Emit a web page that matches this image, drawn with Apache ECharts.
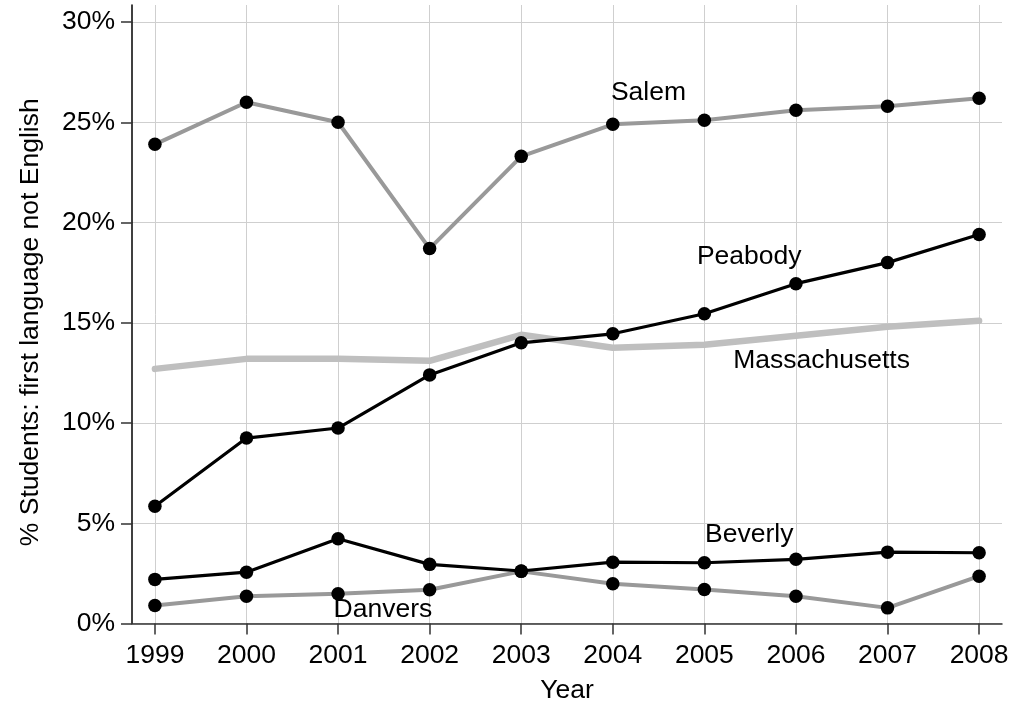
<!DOCTYPE html>
<html>
<head>
<meta charset="utf-8">
<script src="https://cdn.jsdelivr.net/npm/echarts@6/dist/echarts.min.js"></script>
<style>html,body{margin:0;padding:0;background:#fff;}#c{width:1010px;height:701px;}</style>
</head>
<body>
<div id="c"></div>
<script>
const years = [1999, 2000, 2001, 2002, 2003, 2004, 2005, 2006, 2007, 2008];
const salem = [23.9, 26.0, 25.0, 18.7, 23.3, 24.9, 25.1, 25.6, 25.8, 26.2];
const peabody = [5.85, 9.25, 9.75, 12.4, 14.0, 14.45, 15.45, 16.95, 18.0, 19.4];
const massachusetts = [12.7, 13.2, 13.2, 13.1, 14.4, 13.75, 13.9, 14.35, 14.8, 15.1];
const beverly = [2.2, 2.56, 4.23, 2.95, 2.62, 3.06, 3.03, 3.2, 3.56, 3.53];
const danvers = [0.9, 1.36, 1.48, 1.68, 2.6, 1.98, 1.7, 1.36, 0.78, 2.36];
const yTicks = [0, 5, 10, 15, 20, 25, 30];
const labelPos = {
  Salem: [2004.39, 26.46],
  Peabody: [2005.49, 18.28],
  Massachusetts: [2006.28, 13.09],
  Beverly: [2005.49, 4.41],
  Danvers: [2001.49, 0.67]
};

const FONT = 'Liberation Sans, Arial, Helvetica, sans-serif';
const FS = 26.5;
const pairs = arr => years.map((y, i) => [y, arr[i]]);
function tag(name) {
  return {
    silent: true,
    symbol: 'circle', symbolSize: 0,
    data: [{ coord: labelPos[name], value: name }],
    label: { show: true, position: 'inside', formatter: name, color: '#000', fontSize: FS, fontFamily: FONT }
  };
}
function series(name, data, lineColor, width, markers) {
  return {
    name, type: 'line', data: pairs(data),
    symbol: markers ? 'circle' : 'none', symbolSize: 13.5, showSymbol: markers,
    itemStyle: { color: '#000' },
    lineStyle: { color: lineColor, width: width, cap: 'round', join: 'round' },
    emphasis: { disabled: true },
    animation: false,
    markPoint: tag(name)
  };
}

const chart = echarts.init(document.getElementById('c'), null, { renderer: 'canvas' });
chart.setOption({
  backgroundColor: '#fff',
  animation: false,
  grid: { left: 132, right: 8, top: 5, bottom: 77.5, containLabel: false, outerBoundsMode: 'none' },
  xAxis: {
    type: 'value', min: 1998.75, max: 2008.25,
    name: 'Year', nameLocation: 'middle', nameGap: 54,
    nameTextStyle: { fontSize: FS, color: '#000', fontFamily: FONT },
    axisLine: { show: true, lineStyle: { color: '#333', width: 1.5 } },
    axisTick: { show: true, length: 11, customValues: years, lineStyle: { color: '#333', width: 1.5 } },
    axisLabel: { customValues: years, fontSize: FS, color: '#000', fontFamily: FONT, margin: 19, formatter: v => String(v) },
    splitLine: { show: true, lineStyle: { color: '#cfcfcf', width: 1 } }
  },
  yAxis: {
    type: 'value', min: 0, max: 30.85,
    name: '% Students: first language not English', nameLocation: 'middle', nameGap: 88,
    nameTextStyle: { fontSize: FS, color: '#000', fontFamily: FONT, padding: [0, 16, 0, 0] },
    axisLine: { show: true, lineStyle: { color: '#000', width: 1.5 } },
    axisTick: { show: true, length: 11, customValues: yTicks, lineStyle: { color: '#333', width: 1.5 } },
    axisLabel: { customValues: yTicks, fontSize: FS, color: '#000', fontFamily: FONT, margin: 17, formatter: v => v + '%' },
    splitLine: { show: true, lineStyle: { color: '#cfcfcf', width: 1 } }
  },
  series: [
    series('Massachusetts', massachusetts, '#bfbfbf', 6.5, false),
    series('Salem', salem, '#999999', 4, true),
    series('Danvers', danvers, '#999999', 4, true),
    series('Peabody', peabody, '#000000', 3.2, true),
    series('Beverly', beverly, '#000000', 3.2, true)
  ]
});
</script>
</body>
</html>
